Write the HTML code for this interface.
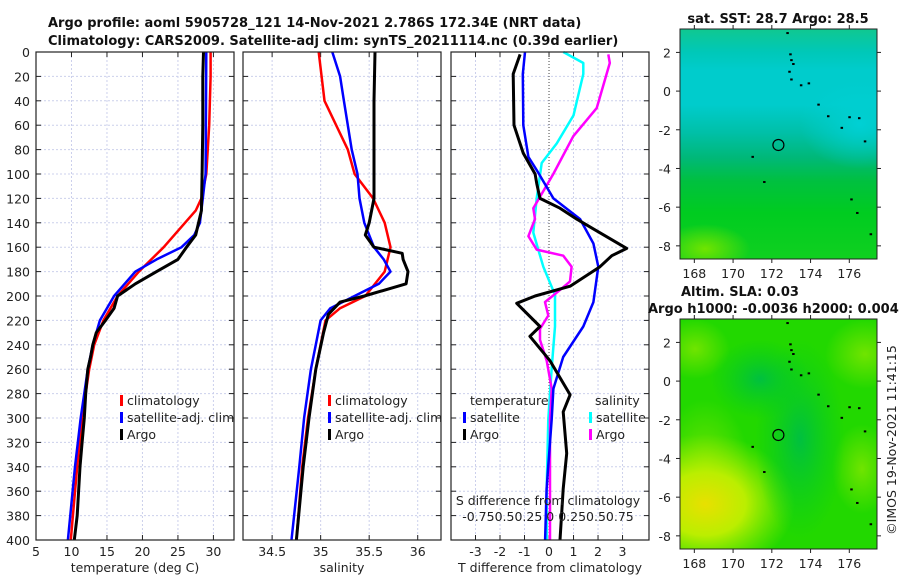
<!DOCTYPE html>
<html><head><meta charset="utf-8"><style>
html,body{margin:0;background:#fff;width:900px;height:580px;overflow:hidden}
svg{display:block;font-family:"DejaVu Sans","Liberation Sans",sans-serif}
</style></head><body>
<svg id="fig" width="900" height="580" viewBox="0 0 900 580">
<defs>
<linearGradient id="sstg" x1="0" y1="0" x2="0" y2="1">
<stop offset="0" stop-color="#10c890"/><stop offset="0.1" stop-color="#00c8b8"/><stop offset="0.18" stop-color="#00cccc"/><stop offset="0.33" stop-color="#00cccc"/>
<stop offset="0.45" stop-color="#00c0a8"/><stop offset="0.56" stop-color="#00b878"/><stop offset="0.66" stop-color="#00c040"/><stop offset="0.8" stop-color="#00cc20"/><stop offset="1" stop-color="#10d020"/></linearGradient>
<radialGradient id="cyanR" cx="0.5" cy="0.5" r="0.5"><stop offset="0" stop-color="#00d0d4"/><stop offset="1" stop-color="#00d0d4" stop-opacity="0"/></radialGradient>
<radialGradient id="limeR" cx="0.5" cy="0.5" r="0.5"><stop offset="0" stop-color="#70e400"/><stop offset="1" stop-color="#70e400" stop-opacity="0"/></radialGradient>
<radialGradient id="yelR" cx="0.5" cy="0.5" r="0.5"><stop offset="0" stop-color="#e8e000"/><stop offset="0.45" stop-color="#bbee00"/><stop offset="1" stop-color="#99ee00" stop-opacity="0"/></radialGradient>
<radialGradient id="dgR" cx="0.5" cy="0.5" r="0.5"><stop offset="0" stop-color="#00c040"/><stop offset="1" stop-color="#00cc20" stop-opacity="0"/></radialGradient>
<clipPath id="c1"><rect x="680" y="29" width="197" height="230"/></clipPath>
<clipPath id="c2"><rect x="680" y="319" width="197" height="230"/></clipPath>
</defs>
<g id="root"></g>
</svg>
<script>
// ---- data ----
const depthTicks=[0,20,40,60,80,100,120,140,160,180,200,220,240,260,280,300,320,340,360,380,400];
const tempTicks=[5,10,15,20,25,30];
const salTicks=[34.5,35,35.5,36];
const dTicks=[-3,-2,-1,0,1,2,3];
const climTdep=[0,20,60,100,120,130,140,160,180,200,220,240,260,300,340,380,400];
const climT=[29.6,29.6,29.4,29.0,28.3,27.5,26.0,23.0,19.5,16.5,14.5,13.2,12.5,11.5,10.8,10.2,9.9];
const satTdep=[0,100,120,140,150,160,170,180,190,200,220,240,260,300,340,400];
const satT=[29.0,28.9,28.5,28.1,27.3,25.5,22.0,19.0,17.5,16.0,14.0,13.0,12.3,11.3,10.5,9.5];
const argoTdep=[0,20,60,100,130,150,160,170,180,190,200,210,220,230,240,250,260,280,300,320,340,360,380,400];
const argoT=[28.6,28.5,28.5,28.4,28.3,27.5,26.2,25.0,22.0,19.0,16.5,16.0,14.8,13.5,13.0,12.7,12.3,12.0,11.8,11.5,11.2,11.0,10.8,10.4];
const climSdep=[0,40,80,100,120,140,160,180,200,210,220,240,260,300,340,400];
const climS=[34.98,35.04,35.28,35.35,35.54,35.66,35.72,35.66,35.46,35.2,35.05,35.0,34.95,34.87,34.81,34.75];
const satSdep=[0,20,40,60,80,100,120,140,160,170,180,190,200,210,220,240,260,300,340,400];
const satS=[35.12,35.2,35.24,35.28,35.32,35.38,35.4,35.45,35.55,35.65,35.72,35.6,35.35,35.1,35.0,34.95,34.9,34.83,34.78,34.7];
const argoSdep=[0,40,100,120,140,150,160,165,170,180,190,200,205,215,230,260,300,340,400];
const argoS=[35.56,35.55,35.55,35.55,35.5,35.46,35.55,35.84,35.85,35.9,35.88,35.45,35.2,35.08,35.03,34.95,34.88,34.82,34.75];
const dArgoTdep=[2,18,60,83,100,108,120,128,137,145,161,167,176,192,200,206,225,233,253,281,295,329,358,400];
const dArgoT=[-1.18,-1.46,-1.43,-1.05,-0.57,-0.5,-0.37,0.45,1.13,1.81,3.17,2.56,2.08,0.86,-0.57,-1.32,-0.37,-0.78,0.04,0.86,0.58,0.72,0.58,0.45];
const dSatTdep=[0,18,60,86,97,120,137,157,176,205,225,250,276,301,358,400];
const dSatT=[-0.98,-1.07,-1.05,-0.84,-0.5,0.18,1.27,1.81,2.01,1.81,1.4,0.58,0.18,0.11,-0.1,-0.16];
const dSatSdep=[0,9,18,52,75,91,120,148,176,199,225,259,301,358,400];
const dSatS=[0.146,0.35,0.35,0.25,0.078,-0.075,-0.126,-0.16,-0.058,0.061,0.061,0.027,-0.007,-0.024,-0.024];
const dArgoSdep=[2,9,46,69,100,114,128,137,151,162,167,176,188,195,205,216,227,236,253,276,301,400];
const dArgoS=[0.605,0.62,0.486,0.248,0.044,-0.058,-0.16,-0.143,-0.21,-0.126,0.146,0.23,0.214,0.112,-0.041,-0.007,-0.092,-0.092,-0.024,0.027,0.01,0.01];
const lonTicks=[168,170,172,174,176];
const latTicks=[-8,-6,-4,-2,0,2];
const argoPos=[172.34,-2.786];
const islandLon=[172.8,172.95,173.0,173.1,172.9,173.0,173.5,173.9,174.4,174.9,175.6,176.0,176.5,176.8,176.1,176.4,177.1,171.0,171.6];
const islandLat=[3.0,1.9,1.6,1.4,1.0,0.6,0.3,0.4,-0.7,-1.3,-1.9,-1.35,-1.4,-2.6,-5.6,-6.3,-7.4,-3.4,-4.7];

// ---- helpers ----
const NS='http://www.w3.org/2000/svg';
const root=document.getElementById('root');
function mk(tag,attrs,parent){const e=document.createElementNS(NS,tag);for(const k in attrs)e.setAttribute(k,attrs[k]);(parent||root).appendChild(e);return e;}
function txt(s,x,y,attrs,parent){const e=mk('text',Object.assign({x:x,y:y,'font-size':12.5,fill:'#222'},attrs||{}),parent);e.textContent=s;return e;}
const PT=52,PB=540;
const yD=d=>PT+d*(PB-PT)/400;
function lin(d0,d1,p0,p1){return v=>p0+(v-d0)*(p1-p0)/(d1-d0);}
const panels=[
 {x0:36,x1:234,sx:lin(5,32.9,36,234),ticks:tempTicks,label:'temperature (deg C)',name:'temperature-panel'},
 {x0:243,x1:441,sx:lin(34.2,36.24,243,441),ticks:salTicks,label:'salinity',name:'salinity-panel'},
 {x0:451,x1:649,sx:lin(-4,4.08,451,649),ticks:dTicks,label:'T difference from climatology',name:'difference-panel'}
];
panels.forEach((p,i)=>{
 const g=mk('g',{});
 
 
 depthTicks.forEach(d=>{if(d>0&&d<400){const l=mk('line',{x1:p.x0,x2:p.x1,y1:yD(d),y2:yD(d),stroke:'#ccd0ec','stroke-width':1,'stroke-dasharray':'2,2'},g);}
  mk('line',{x1:p.x0,x2:p.x0+5,y1:yD(d),y2:yD(d),stroke:'#222'},g);mk('line',{x1:p.x1-5,x2:p.x1,y1:yD(d),y2:yD(d),stroke:'#222'},g);});
 p.ticks.forEach(t=>{const x=p.sx(t);
  if(!(i===2&&t===0)){const l=mk('line',{x1:x,x2:x,y1:PT,y2:PB,stroke:'#ccd0ec','stroke-dasharray':'2,2'},g);}
  mk('line',{x1:x,x2:x,y1:PT,y2:PT+5,stroke:'#222'},g);mk('line',{x1:x,x2:x,y1:PB-5,y2:PB,stroke:'#222'},g);
  const tl=txt(String(t),x,556,{'text-anchor':'middle'},g);});
 const al=txt(p.label,(p.x0+p.x1)/2,572,{'text-anchor':'middle'},g);
 
 
});
depthTicks.forEach(d=>{const t=txt(String(d),30,yD(d)+5,{'text-anchor':'end'});});
const zl=mk('line',{x1:panels[2].sx(0),x2:panels[2].sx(0),y1:PT,y2:PB,stroke:'#444','stroke-dasharray':'1,2'});


function series(xs,ds,sx,col,w,name){
 const pts=xs.map((v,k)=>sx(v).toFixed(1)+','+yD(ds[k]).toFixed(1)).join(' ');
 const e=mk('polyline',{points:pts,fill:'none',stroke:col,'stroke-width':w,'stroke-linejoin':'round'});
 
 
}
const P1=panels[0].sx,P2=panels[1].sx,P3=panels[2].sx,P3s=v=>P3(v*4);
series(climT,climTdep,P1,'#ff0000',2.5,'temp-climatology-line');
series(satT,satTdep,P1,'#0000ff',2.5,'temp-satellite-line');
series(argoT,argoTdep,P1,'#000000',3,'temp-argo-line');
series(climS,climSdep,P2,'#ff0000',2.5,'sal-climatology-line');
series(satS,satSdep,P2,'#0000ff',2.5,'sal-satellite-line');
series(argoS,argoSdep,P2,'#000000',3,'sal-argo-line');
series(dSatS,dSatSdep,P3s,'#00ffff',2.5,'sdiff-satellite-line');
series(dArgoS,dArgoSdep,P3s,'#ff00ff',2.5,'sdiff-argo-line');
series(dSatT,dSatTdep,P3,'#0000ff',2.5,'tdiff-satellite-line');
series(dArgoT,dArgoTdep,P3,'#000000',3,'tdiff-argo-line');
panels.forEach(p=>{const r=mk('rect',{x:p.x0,y:PT,width:p.x1-p.x0,height:PB-PT,fill:'none',stroke:'#222','stroke-width':1.2});});
function leg(x,y,col,label,name){const g=mk('g',{});
 mk('rect',{x:x,y:y-10,width:3,height:11,fill:col},g);txt(label,x+7,y,{},g);}
leg(120,405,'#ff0000','climatology','legend-climatology');
leg(120,422,'#0000ff','satellite-adj. clim','legend-satellite');
leg(120,439,'#000','Argo','legend-argo');
leg(328,405,'#ff0000','climatology','legend-climatology-2');
leg(328,422,'#0000ff','satellite-adj. clim','legend-satellite-2');
leg(328,439,'#000','Argo','legend-argo-2');
let t=txt('temperature',470,405);
t=txt('salinity',595,405);
leg(463,422,'#0000ff','satellite','legend-t-satellite');
leg(463,439,'#000','Argo','legend-t-argo');
leg(589,422,'#00ffff','satellite','legend-s-satellite');
leg(589,439,'#ff00ff','Argo','legend-s-argo');
t=txt('S difference from climatology',548,505,{'text-anchor':'middle'});
t=txt('-0.750.50.25 0 0.250.50.75',548,521,{'text-anchor':'middle'});
t=txt('Argo profile: aoml 5905728_121 14-Nov-2021 2.786S 172.34E (NRT data)',48,27,{'font-weight':'bold','fill':'#111','font-size':13});
t=txt('Climatology: CARS2009. Satellite-adj clim: synTS_20211114.nc (0.39d earlier)',48,45,{'font-weight':'bold','fill':'#111','font-size':13});

// ---- maps ----
const lonX=lin(167.26,177.43,680,877);
function mapPanel(top,kind,name,clip){
 const latY=lin(3.21,-8.68,top,top+230);
 const g=mk('g',{});
 const f=mk('g',{'clip-path':'url(#'+clip+')'},g);
 if(kind==='sst'){
  mk('rect',{x:680,y:top,width:197,height:230,fill:'url(#sstg)'},f);
  mk('ellipse',{cx:860,cy:top+95,rx:60,ry:45,fill:'url(#cyanR)'},f);
  mk('ellipse',{cx:705,cy:top+220,rx:45,ry:25,fill:'url(#limeR)'},f);
 } else {
  mk('rect',{x:680,y:top,width:197,height:230,fill:'#22d800'},f);
  mk('ellipse',{cx:695,cy:top+30,rx:35,ry:30,fill:'url(#limeR)'},f);
  mk('ellipse',{cx:865,cy:top+35,rx:40,ry:35,fill:'url(#limeR)'},f);
  mk('ellipse',{cx:705,cy:top+150,rx:45,ry:70,fill:'url(#limeR)'},f);
  mk('ellipse',{cx:705,cy:top+185,rx:90,ry:70,fill:'url(#yelR)'},f);
  mk('ellipse',{cx:862,cy:top+150,rx:30,ry:45,fill:'url(#limeR)'},f);
  mk('ellipse',{cx:800,cy:top+120,rx:45,ry:100,fill:'url(#dgR)'},f);
  mk('ellipse',{cx:760,cy:top+60,rx:50,ry:40,fill:'url(#dgR)'},f);
 }
 islandLon.forEach((lo,k)=>{const d=mk('rect',{x:lonX(lo)-1,y:latY(islandLat[k])-1,width:2.5,height:2,fill:'#000'},f);});
 const c=mk('circle',{cx:lonX(argoPos[0]),cy:latY(argoPos[1]),r:5.5,fill:'none',stroke:'#000','stroke-width':1.2},g);
 
 mk('rect',{x:680,y:top,width:197,height:230,fill:'none',stroke:'#222'},g);
 lonTicks.forEach(l=>{const x=lonX(l);mk('line',{x1:x,x2:x,y1:top+230,y2:top+234,stroke:'#222'},g);mk('line',{x1:x,x2:x,y1:top,y2:top-4,stroke:'#222'},g);
  const tl=txt(String(l),x,top+249,{'text-anchor':'middle'},g);});
 latTicks.forEach(l=>{const y=latY(l);mk('line',{x1:676,x2:680,y1:y,y2:y,stroke:'#222'},g);mk('line',{x1:877,x2:881,y1:y,y2:y,stroke:'#222'},g);
  const tl=txt(String(l),671,y+5,{'text-anchor':'end'},g);});
}
mapPanel(29,'sst','sst-map','c1');
mapPanel(319,'sla','sla-map','c2');
t=txt('sat. SST: 28.7 Argo: 28.5',778,23,{'text-anchor':'middle','font-weight':'bold','fill':'#111','font-size':13});
t=txt('Altim. SLA: 0.03',681,296,{'font-weight':'bold','fill':'#111','font-size':13});
t=txt('Argo h1000: -0.0036 h2000: 0.004',648,313,{'font-weight':'bold','fill':'#111','font-size':13});
t=txt('©IMOS 19-Nov-2021 11:41:15',0,0,{'text-anchor':'middle',transform:'translate(896,440) rotate(-90)'});
</script>
</body></html>
